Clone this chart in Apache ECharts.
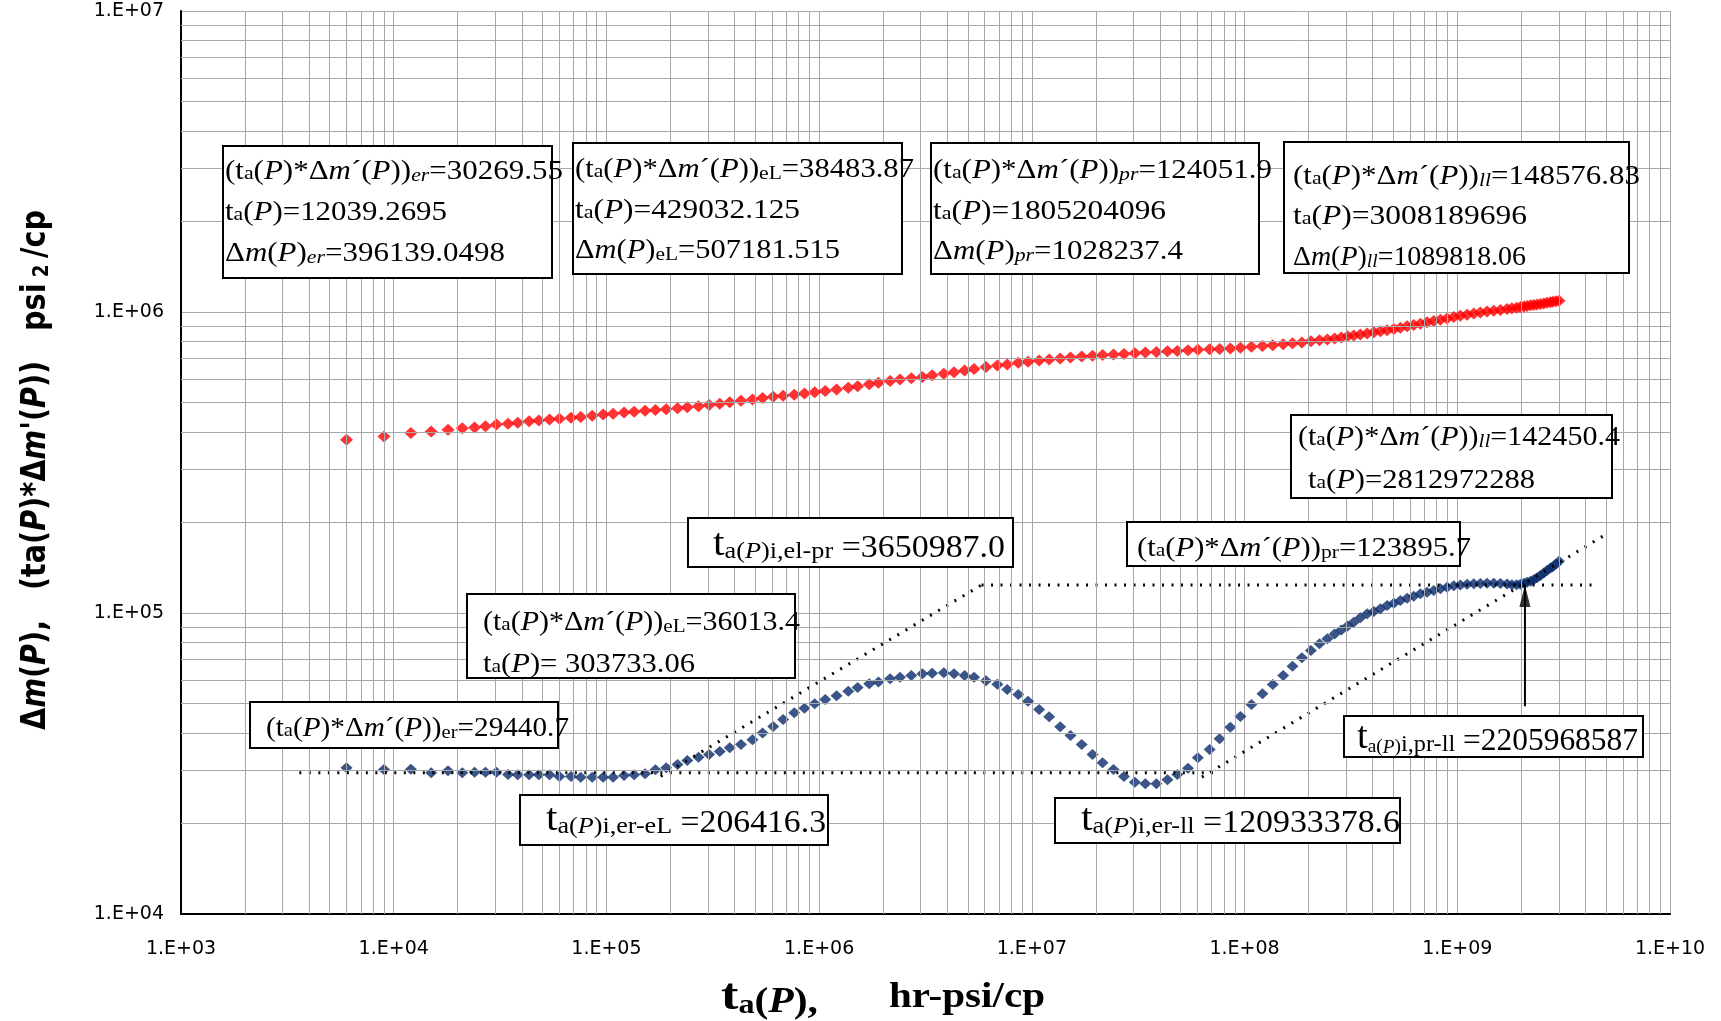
<!DOCTYPE html>
<html>
<head>
<meta charset="utf-8">
<script src="https://cdn.jsdelivr.net/npm/echarts@6/dist/echarts.min.js"></script>
<style>
  html, body { margin: 0; padding: 0; background: #fff; }
  #chart { width: 1721px; height: 1021px; }
</style>
</head>
<body>
<div id="chart"></div>
<script>
// ta(P), hr-psi/cp
var taP = [
  6000, 9000, 12039.2695, 15000, 18000, 21000, 24000, 27000, 30400, 34500,
  38300, 43300, 48100, 54000, 60100, 68200, 75700, 85700, 96500, 107500,
  121000, 135000, 152000, 170000, 191000, 216000, 240000, 271000, 303733.06, 341000,
  380000, 429032.125, 486000, 542000, 608000, 677000, 764000,
  853000, 953000, 1068000, 1208000, 1371000, 1517000, 1720000, 1900000, 2155000, 2400000,
  2712000, 3058000, 3398000, 3855000, 4305000, 4830000, 5350000, 6085000, 6885000, 7660000,
  8635000, 9590000, 10820000, 12060000, 13590000, 15200000, 17150000, 19280000, 21500000, 24200000,
  27100000, 30500000, 34150000, 38500000, 43400000, 48300000, 54200000, 60300000, 68500000, 76300000,
  85700000, 95600000, 107700000, 121400000, 135700000, 151900000,
  168000000, 186000000, 205000000, 225000000, 245000000, 265000000, 285000000, 305000000, 326000000, 350000000,
  377000000, 405000000, 435000000, 468000000, 503000000, 540000000, 581000000, 624000000, 671000000, 721000000,
  775000000, 833000000, 895000000, 963000000, 1034000000, 1112000000, 1195000000, 1284000000, 1380000000, 1484000000,
  1595000000, 1714000000, 1805204096, 1900000000, 1980000000, 2060000000, 2128000000, 2210000000, 2288000000, 2370000000,
  2459000000, 2550000000, 2642000000, 2740000000, 2812972288, 2910000000, 3008189696
];

// Δm(P), psi2/cp  (red)
var deltaM = [
  376200, 385900, 396139.0498, 400900, 406100, 411200, 413000, 417500, 422900, 425000,
  428300, 433800, 436000, 439500, 442000, 445100, 448000, 451900, 456500, 459000,
  463500, 466000, 469500, 472500, 475500, 478500, 482500, 486500, 491000, 496000,
  501500, 507181.515, 512000, 518000, 523000, 527000, 531000,
  536000, 541000, 546500, 553000, 560000, 566500, 575000, 581500, 590000, 596500,
  602000, 608500, 616000, 624000, 631000, 639000, 646000, 656000, 664000, 669500,
  678000, 683000, 690000, 695500, 701000, 705500, 711000, 715000, 719000, 723000,
  725500, 730000, 733500, 736500, 740000, 742000, 746000, 749500, 752000, 754000,
  757000, 760500, 767000, 771000, 775000, 782000,
  787000, 792000, 799000, 805000, 810000, 817000, 823000, 830000, 836000, 842000,
  849000, 856000, 863000, 870000, 878000, 887000, 896000, 905000, 914000, 924000,
  933000, 942000, 952000, 962000, 971000, 980000, 988000, 996000, 1003000, 1010000,
  1016000, 1023000, 1028237.4, 1033000, 1038000, 1043000, 1047000, 1052000, 1056000, 1060000,
  1064000, 1068000, 1073000, 1078000, 1081000, 1085000, 1089818.06
];

// ta(P)*Δm'(P), psi2/cp  (blue)
var derivM = [
  30600, 30200, 30269.55, 29440, 29900, 29440, 29590, 29590, 29590, 29080,
  29000, 29000, 29000, 29000, 28630, 28630, 28480, 28480, 28480, 28480,
  28840, 29000, 29220, 30130, 30600, 31390, 32360, 33200, 33880, 34670,
  35660, 36570, 37900, 39900, 42000, 44300, 46600,
  48300, 49900, 51600, 53070, 55000, 56560, 58170, 59000, 60440, 61210,
  62000, 62800, 63100, 63300, 62800, 62000, 61210, 59520, 58020, 55690,
  53600, 50940, 47800, 45190, 41860, 39170, 36570, 33880, 31790, 30210,
  28630, 27420, 27070, 27070, 27910, 29080, 30510, 33030, 35200, 38190,
  41750, 45310, 49660, 53890, 57860, 62000,
  66500, 71000, 75000, 79000, 82100, 85100, 87800, 90500, 93200, 96400,
  99400, 101200, 103300, 105900, 107800, 110000, 112000, 113700, 115800, 117250,
  118800, 120300, 121850, 123100, 124000, 124500, 125000, 125300, 125500, 125500,
  125300, 124800, 124051.9, 124200, 124600, 125500, 126600, 127600, 128900, 131000,
  133200, 135800, 138400, 141000, 142450.4, 145500, 148576.83
];

// straight-line fits drawn on the plot (dotted)
var erLine = [[3600, 29440.7], [71000000, 29440.7]];
var eLLine = [[180000, 28700], [5800000, 123895.7]];
var prLine = [[5800000, 123895.7], [4300000000, 123895.7]];
var llLine = [[63000000, 28500], [4840000000, 180000]];
var arrowPr = [[2080000000, 49000], [2080000000, 124000]];

var chart = echarts.init(document.getElementById('chart'));

var gridColor = '#a8a8a8';
var serif = '"Liberation Serif", "Times New Roman", serif';
var sans = '"DejaVu Sans Condensed", "Liberation Sans Narrow", "Liberation Sans", sans-serif';

function tok(family, size, style, weight, lift) {
  return {
    fontFamily: family, fontSize: size, fontStyle: style || 'normal', fontWeight: weight || 'normal',
    lineHeight: size, verticalAlign: 'bottom', fill: '#000', color: '#000',
    padding: [0, 0, lift || 0, 0]
  };
}
var rich = {
  n: tok(serif, 27), i: tok(serif, 27, 'italic'),
  a: tok(serif, 19, 'normal', 'normal', 2),
  s: tok(serif, 19), si: tok(serif, 19, 'italic'),
  T: tok(serif, 38), m: tok(serif, 24), mi: tok(serif, 24, 'italic'), N: tok(serif, 31),
  yb: tok(sans, 28, 'normal', 'bold'), yi: tok(sans, 28, 'italic', 'bold'), ys: tok(sans, 18, 'normal', 'bold'),
  xt: tok(serif, 44, 'normal', 'bold'), xa: tok(serif, 27, 'normal', 'bold'),
  xn: tok(serif, 35, 'normal', 'bold'), xi: tok(serif, 35, 'italic', 'bold')
};

function measure(text) {
  try {
    var t = new echarts.graphic.Text({ style: { text: text, rich: rich } });
    return t.getBoundingRect();
  } catch (e) {
    return null;
  }
}

// one text line, stretched to the width it has in the picture
function line(x, yc, w, text) {
  var r = measure(text);
  var sx = r && r.width > 0 ? w / r.width : 1;
  return {
    type: 'text', x: x, y: yc, scaleX: sx, z: 101,
    style: { text: text, rich: rich, fill: '#000', align: 'left', verticalAlign: 'middle',
      textAlign: 'left', textVerticalAlign: 'middle' }
  };
}
function box(x, y, w, h) {
  return {
    type: 'rect', z: 100, shape: { x: x, y: y, width: w, height: h },
    style: { fill: '#fff', stroke: '#000', lineWidth: 2 }
  };
}

var P1 = '{n|(t}{a|a}{n|(}{i|P}{n|)*Δ}{i|m}{n|´(}{i|P}{n|))}';
var TA = '{n|t}{a|a}{n|(}{i|P}{n|)}';
var DM = '{n|Δ}{i|m}{n|(}{i|P}{n|)}';

var notes = [
  box(223, 146, 329, 132),
  line(225, 172, 338, P1 + '{si|er}{n|=30269.55}'),
  line(225, 213, 222, TA + '{n|=12039.2695}'),
  line(225, 254, 280, DM + '{si|er}{n|=396139.0498}'),

  box(573, 143, 329, 131),
  line(575, 170, 339, P1 + '{s|eL}{n|=38483.87}'),
  line(575, 211, 225, TA + '{n|=429032.125}'),
  line(575, 251, 265, DM + '{s|eL}{n|=507181.515}'),

  box(931, 143, 328, 131),
  line(933, 171, 339, P1 + '{si|pr}{n|=124051.9}'),
  line(933, 212, 233, TA + '{n|=1805204096}'),
  line(933, 252, 250, DM + '{si|pr}{n|=1028237.4}'),

  box(1284, 142, 345, 131),
  line(1293, 177, 347, P1 + '{si|ll}{n|=148576.83}'),
  line(1293, 217, 234, TA + '{n|=3008189696}'),
  line(1293, 258, 233, DM + '{si|ll}{n|=1089818.06}'),

  box(1291, 415, 321, 83),
  line(1298, 438, 322, P1 + '{si|ll}{n|=142450.4}'),
  line(1308, 481, 227, TA + '{n|=2812972288}'),

  box(688, 518, 325, 49),
  line(713, 545, 292, '{T|t}{m|a(}{mi|P}{m|)i,el-pr}{N| =3650987.0}'),

  box(1127, 522, 333, 44),
  line(1137, 549, 334, P1 + '{s|pr}{n|=123895.7}'),

  box(467, 594, 328, 84),
  line(483, 623, 317, P1 + '{s|eL}{n|=36013.4}'),
  line(483, 665, 212, TA + '{n|= 303733.06}'),

  box(250, 702, 308, 46),
  line(266, 729, 303, P1 + '{s|er}{n|=29440.7}'),

  box(520, 795, 308, 50),
  line(546, 820, 280, '{T|t}{m|a(}{mi|P}{m|)i,er-eL}{N| =206416.3}'),

  box(1055, 798, 345, 45),
  line(1081, 820, 319, '{T|t}{m|a(}{mi|P}{m|)i,er-ll}{N| =120933378.6}'),

  box(1344, 716, 299, 41),
  line(1357, 738, 281, '{T|t}{s|a(}{si|P}{s|)}{m|i,pr-ll}{N| =2205968587}')
];

// axis titles
var yTitle = '{yb|Δ}{yi|m}{yb|(}{yi|P}{yb|),   (ta(}{yi|P}{yb|)*Δ}{yi|m}{yb|\'(}{yi|P}{yb|))   psi}{ys| 2 }{yb|/cp}';
var yr = measure(yTitle);
notes.push({
  type: 'text', x: 36, y: 470, rotation: Math.PI / 2, z: 101,
  scaleX: yr && yr.width > 0 ? 520 / yr.width : 1, scaleY: 1.2,
  style: { text: yTitle, rich: rich, fill: '#000', align: 'center', verticalAlign: 'middle',
    textAlign: 'center', textVerticalAlign: 'middle' }
});
notes.push(line(721, 998, 97, '{xt|t}{xa|a}{xn|(}{xi|P}{xn|),}'));
notes.push(line(889, 998, 156, '{xn|hr-psi/cp}'));

function pairs(xs, ys) {
  return xs.map(function (x, i) { return [x, ys[i]]; });
}
function expLabel(v) {
  var e = Math.round(Math.log(v) / Math.LN10);
  return '1.E+' + (e < 10 ? '0' : '') + e;
}

var minorLines = [];
for (var e = 3; e < 10; e++) {
  for (var k = 2; k <= 9; k++) minorLines.push({ xAxis: k * Math.pow(10, e) });
}
for (e = 4; e < 7; e++) {
  for (k = 2; k <= 9; k++) minorLines.push({ yAxis: k * Math.pow(10, e) });
}

var dotted = { color: '#000', width: 3, type: [2, 7.5], cap: 'butt' };

var option = {
  animation: false,
  backgroundColor: '#fff',
  grid: { left: 181, top: 11, width: 1489, height: 903, containLabel: false, outerBoundsMode: 'none' },
  xAxis: {
    type: 'log', logBase: 10, min: 1e3, max: 1e10, splitNumber: 7,
    axisLine: { show: true, onZero: false, lineStyle: { color: '#000', width: 2 } },
    axisTick: { show: false },
    axisLabel: { formatter: expLabel, margin: 26, fontFamily: 'DejaVu Sans', fontSize: 19, color: '#000' },
    splitLine: { show: true, lineStyle: { color: gridColor, width: 1 } }
  },
  yAxis: {
    type: 'log', logBase: 10, min: 1e4, max: 1e7, splitNumber: 3,
    axisLine: { show: true, onZero: false, lineStyle: { color: '#000', width: 2 } },
    axisTick: { show: false },
    axisLabel: { formatter: expLabel, margin: 17, fontFamily: 'DejaVu Sans', fontSize: 19, color: '#000' },
    splitLine: { show: true, lineStyle: { color: gridColor, width: 1 } }
  },
  series: [
    {
      type: 'line', z: 1, silent: true, symbol: 'none',
      data: [[2000, 20000]], lineStyle: { width: 0 },
      markLine: {
        silent: true, symbol: 'none', animation: false, label: { show: false },
        lineStyle: { color: gridColor, width: 1, type: 'solid' },
        emphasis: { disabled: true },
        data: minorLines
      }
    },
    {
      name: 'Δm(P)', type: 'scatter', z: 3, symbol: 'diamond', symbolSize: [13, 12],
      itemStyle: { color: '#ff0000' }, data: pairs(taP, deltaM)
    },
    {
      name: "ta(P)*Δm'(P)", type: 'scatter', z: 3, symbol: 'diamond', symbolSize: [12, 11],
      itemStyle: { color: '#0a2a6a' }, data: pairs(taP, derivM)
    },
    { type: 'line', z: 4, symbol: 'none', lineStyle: dotted, data: erLine },
    { type: 'line', z: 4, symbol: 'none', lineStyle: dotted, data: eLLine },
    { type: 'line', z: 4, symbol: 'none', lineStyle: dotted, data: prLine },
    { type: 'line', z: 4, symbol: 'none', lineStyle: dotted, data: llLine },
    { type: 'line', z: 5, symbol: 'none', lineStyle: { color: '#000', width: 2 }, data: arrowPr },
    {
      type: 'scatter', z: 5, symbol: 'triangle', symbolSize: [11, 22], symbolOffset: [0, '50%'],
      itemStyle: { color: '#000' }, data: [arrowPr[1]]
    }
  ],
  graphic: { elements: notes }
};

chart.setOption(option);
</script>
</body>
</html>
